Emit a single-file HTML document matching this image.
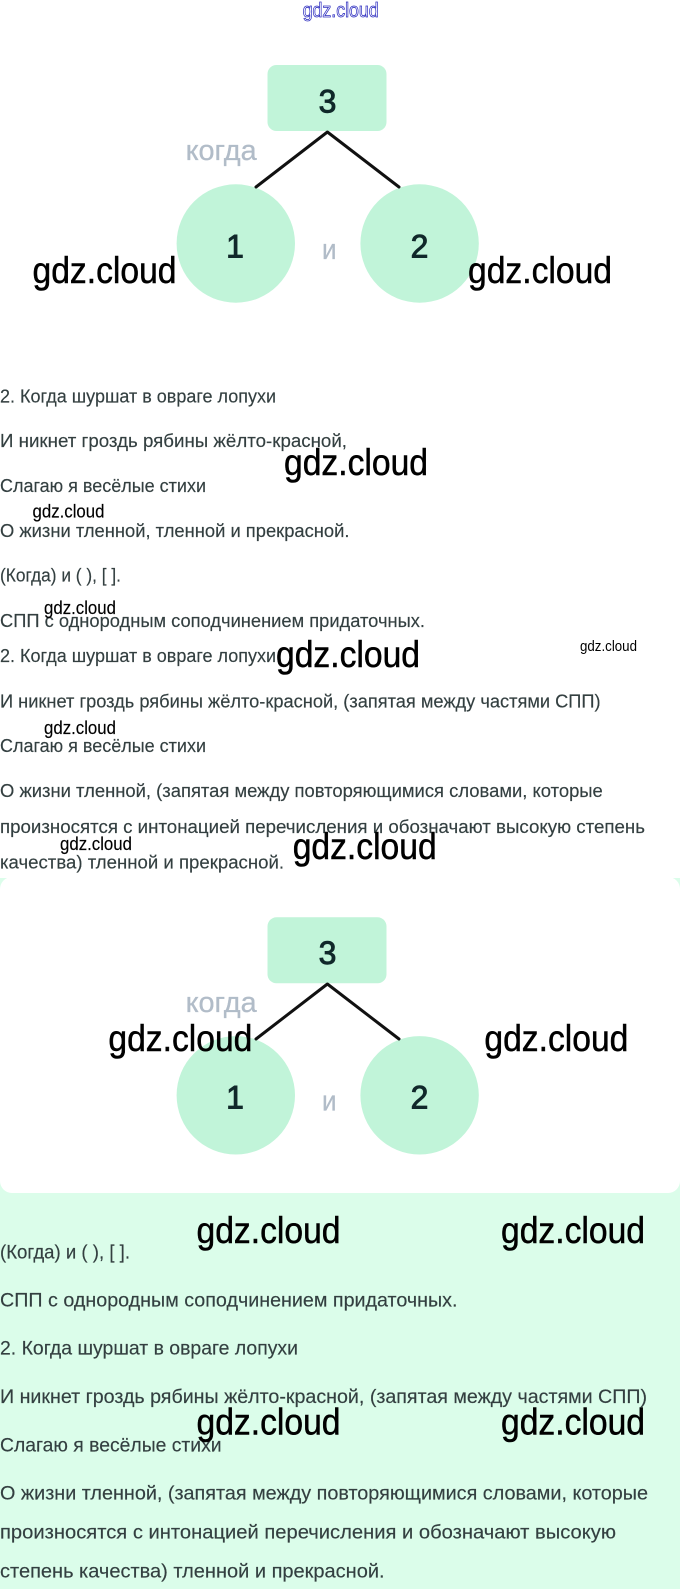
<!DOCTYPE html>
<html lang="ru">
<head>
<meta charset="utf-8">
<title>gdz.cloud</title>
<style>
html,body{margin:0;padding:0;background:#fff;width:680px;height:1589px;overflow:hidden}
svg{display:block}
text{font-family:"Liberation Sans","DejaVu Sans",sans-serif}
.t{font-size:18px;fill:#333f40;stroke:#333f40;stroke-width:.15;transform:translateY(.5px)}
.b{font-size:19.4px;fill:#333f40;stroke:#333f40;stroke-width:.15;transform:translateY(.5px)}
.w{font-size:37px;fill:#000;stroke:#000;stroke-width:.5;transform:translateY(1px)}
.s{font-size:18.5px;fill:#000;stroke:#000;stroke-width:.15}
.n{font-size:32px;fill:#10282a;stroke:#10282a;stroke-width:.9;text-anchor:middle}
.g{font-size:29px;fill:#b1bcc8;stroke:#b1bcc8;stroke-width:.3}
.l{stroke:#111;stroke-width:3;fill:none;stroke-linecap:round;stroke-linejoin:round}
</style>
</head>
<body>
<svg xmlns="http://www.w3.org/2000/svg" width="680" height="1589" viewBox="0 0 680 1589">
<rect width="680" height="1589" fill="#fff"/>

<!-- bottom mint section -->
<rect x="0" y="878" width="680" height="711" fill="#dbfdea"/>
<rect x="0" y="877" width="680" height="316" rx="12" ry="12" fill="#fff"/>

<!-- top outlined mark -->
<text x="302.7" y="17" font-size="20" fill="#fff" stroke="#3030c0" stroke-width=".8" textLength="76" lengthAdjust="spacingAndGlyphs">gdz.cloud</text>

<!-- diagram 1 -->
<rect x="267.5" y="65" width="119" height="66" rx="9" fill="#c1f4d9"/>
<circle cx="235.8" cy="243.5" r="59.2" fill="#c1f4d9"/>
<circle cx="419.6" cy="243.5" r="59.2" fill="#c1f4d9"/>
<path class="l" d="M256 187 L327.4 132 L399 187"/>
<text class="n" x="327.5" y="112.5">3</text>
<text class="n" x="235" y="257.5">1</text>
<text class="n" x="419.5" y="257.5">2</text>
<text class="g" x="185.6" y="159.8" textLength="71" lengthAdjust="spacingAndGlyphs">когда</text>
<text class="g" x="322" y="259" textLength="14.5" lengthAdjust="spacingAndGlyphs">и</text>

<!-- text block 1 -->
<text class="t" x="0" y="402" textLength="276" lengthAdjust="spacingAndGlyphs">2. Когда шуршат в овраге лопухи</text>
<text class="t" x="0" y="446.7" textLength="347" lengthAdjust="spacingAndGlyphs">И никнет гроздь рябины жёлто-красной,</text>
<text class="t" x="0" y="491.7" textLength="206" lengthAdjust="spacingAndGlyphs">Слагаю я весёлые стихи</text>
<text class="t" x="0" y="536.7" textLength="349.5" lengthAdjust="spacingAndGlyphs">О жизни тленной, тленной и прекрасной.</text>
<text class="t" x="0" y="581" textLength="121" lengthAdjust="spacingAndGlyphs">(Когда) и ( ), [ ].</text>
<text class="t" x="0" y="626.7" textLength="425" lengthAdjust="spacingAndGlyphs">СПП с однородным соподчинением придаточных.</text>

<!-- text block 2 -->
<text class="t" x="0" y="661.7" textLength="276" lengthAdjust="spacingAndGlyphs">2. Когда шуршат в овраге лопухи</text>
<text class="t" x="0" y="707" textLength="600.6" lengthAdjust="spacingAndGlyphs">И никнет гроздь рябины жёлто-красной, (запятая между частями СПП)</text>
<text class="t" x="0" y="751.7" textLength="206" lengthAdjust="spacingAndGlyphs">Слагаю я весёлые стихи</text>
<text class="t" x="0" y="796.7" textLength="602.8" lengthAdjust="spacingAndGlyphs">О жизни тленной, (запятая между повторяющимися словами, которые</text>
<text class="t" x="0" y="832.7" textLength="645" lengthAdjust="spacingAndGlyphs">произносятся с интонацией перечисления и обозначают высокую степень</text>
<text class="t" x="0" y="868" textLength="284" lengthAdjust="spacingAndGlyphs">качества) тленной и прекрасной.</text>

<!-- diagram 2 -->
<rect x="267.5" y="917.3" width="119" height="66" rx="9" fill="#c1f4d9"/>
<circle cx="235.8" cy="1095.3" r="59.2" fill="#c1f4d9"/>
<circle cx="419.6" cy="1095.3" r="59.2" fill="#c1f4d9"/>
<path class="l" d="M256 1039 L327.4 984 L399 1039"/>
<text class="n" x="327.5" y="964">3</text>
<text class="n" x="235" y="1108.5">1</text>
<text class="n" x="419.5" y="1108.5">2</text>
<text class="g" x="185.6" y="1012.1" textLength="71" lengthAdjust="spacingAndGlyphs">когда</text>
<text class="g" x="322" y="1110.5" textLength="14.5" lengthAdjust="spacingAndGlyphs">и</text>

<!-- text block 3 -->
<text class="b" x="0" y="1258" textLength="130" lengthAdjust="spacingAndGlyphs">(Когда) и ( ), [ ].</text>
<text class="b" x="0" y="1306" textLength="457.5" lengthAdjust="spacingAndGlyphs">СПП с однородным соподчинением придаточных.</text>
<text class="b" x="0" y="1354" textLength="298" lengthAdjust="spacingAndGlyphs">2. Когда шуршат в овраге лопухи</text>
<text class="b" x="0" y="1402.7" textLength="647" lengthAdjust="spacingAndGlyphs">И никнет гроздь рябины жёлто-красной, (запятая между частями СПП)</text>
<text class="b" x="0" y="1451" textLength="221.6" lengthAdjust="spacingAndGlyphs">Слагаю я весёлые стихи</text>
<text class="b" x="0" y="1499" textLength="648" lengthAdjust="spacingAndGlyphs">О жизни тленной, (запятая между повторяющимися словами, которые</text>
<text class="b" x="0" y="1538" textLength="616" lengthAdjust="spacingAndGlyphs">произносятся с интонацией перечисления и обозначают высокую</text>
<text class="b" x="0" y="1577" textLength="384.6" lengthAdjust="spacingAndGlyphs">степень качества) тленной и прекрасной.</text>

<!-- large watermarks -->
<text class="w" x="32.5" y="282" textLength="144" lengthAdjust="spacingAndGlyphs">gdz.cloud</text>
<text class="w" x="468" y="282" textLength="144" lengthAdjust="spacingAndGlyphs">gdz.cloud</text>
<text class="w" x="284" y="474" textLength="144" lengthAdjust="spacingAndGlyphs">gdz.cloud</text>
<text class="w" x="276" y="666" textLength="144" lengthAdjust="spacingAndGlyphs">gdz.cloud</text>
<text class="w" x="292.7" y="858" textLength="144" lengthAdjust="spacingAndGlyphs">gdz.cloud</text>
<text class="w" x="108.4" y="1050" textLength="144" lengthAdjust="spacingAndGlyphs">gdz.cloud</text>
<text class="w" x="484.4" y="1050" textLength="144" lengthAdjust="spacingAndGlyphs">gdz.cloud</text>
<text class="w" x="196.5" y="1242" textLength="144" lengthAdjust="spacingAndGlyphs">gdz.cloud</text>
<text class="w" x="501" y="1242" textLength="144" lengthAdjust="spacingAndGlyphs">gdz.cloud</text>
<text class="w" x="196.5" y="1433.5" textLength="144" lengthAdjust="spacingAndGlyphs">gdz.cloud</text>
<text class="w" x="501" y="1433.5" textLength="144" lengthAdjust="spacingAndGlyphs">gdz.cloud</text>

<!-- small watermarks -->
<text class="s" x="32.5" y="517.7" textLength="72" lengthAdjust="spacingAndGlyphs">gdz.cloud</text>
<text class="s" x="44" y="614" textLength="72" lengthAdjust="spacingAndGlyphs">gdz.cloud</text>
<text class="s" x="44" y="734" textLength="72" lengthAdjust="spacingAndGlyphs">gdz.cloud</text>
<text class="s" x="60" y="850" textLength="72" lengthAdjust="spacingAndGlyphs">gdz.cloud</text>
<text x="580" y="651" font-size="14.5" fill="#000" textLength="57" lengthAdjust="spacingAndGlyphs">gdz.cloud</text>
</svg>
</body>
</html>
